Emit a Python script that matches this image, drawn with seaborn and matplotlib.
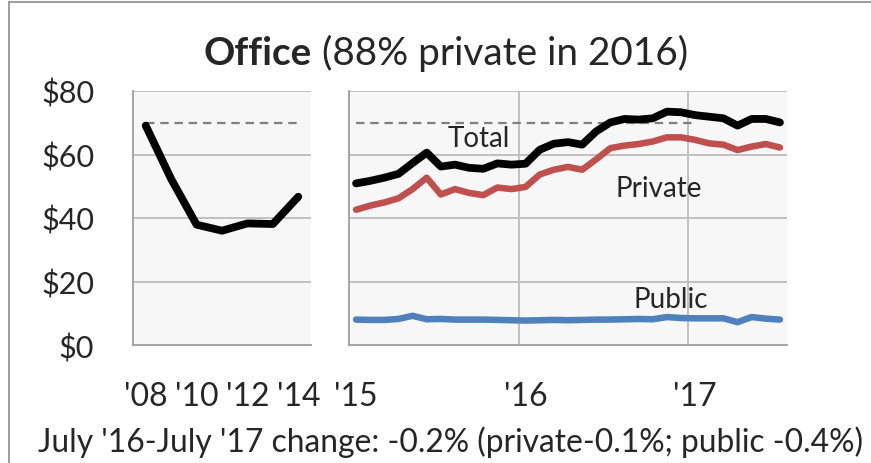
import numpy as np
import pandas as pd
import matplotlib
matplotlib.use("Agg")
import matplotlib.pyplot as plt
import seaborn as sns
from matplotlib.patches import Rectangle

# ---------------- data ----------------
annual_years = [2008, 2009, 2010, 2011, 2012, 2013, 2014]
annual_total = [69.1, 52.3, 37.9, 36.0, 38.3, 38.1, 46.7]
annual_label_years = [2008, 2010, 2012, 2014]
annual_labels = ["'08", "'10", "'12", "'14"]

month_index = list(range(31))  # Jan 2015 .. Jul 2017
monthly_total = [50.9, 51.7, 52.7, 53.9, 57.3, 60.6, 56.2, 56.8, 55.8, 55.5, 57.2, 56.8,
                 57.1, 61.5, 63.4, 63.9, 63.1, 67.3, 70.1, 71.2, 71.0, 71.4, 73.5, 73.3,
                 72.4, 71.9, 71.4, 69.1, 71.2, 71.2, 70.1]
monthly_private = [42.6, 43.9, 44.9, 46.2, 49.1, 52.7, 47.4, 49.1, 47.9, 47.2, 49.6, 49.1,
                   49.8, 53.7, 55.2, 56.1, 55.2, 58.5, 62.0, 62.8, 63.3, 64.1, 65.4, 65.4,
                   64.6, 63.5, 63.1, 61.4, 62.5, 63.3, 62.2]
monthly_public = [8.0, 7.9, 7.9, 8.2, 9.2, 8.1, 8.2, 8.0, 8.0, 8.0, 7.9, 7.8,
                  7.7, 7.8, 7.9, 7.8, 7.9, 8.0, 8.0, 8.1, 8.2, 8.1, 8.8, 8.5,
                  8.4, 8.4, 8.4, 7.2, 8.8, 8.3, 8.0]
year_label_months = [0, 12, 24]
year_labels = ["'15", "'16", "'17"]

reference_level = 70
reference_months = month_index[:25]

y_ticks = [0, 20, 40, 60, 80]
y_labels = ["$0", "$20", "$40", "$60", "$80"]

title_bold = "Office"
title_rest = "(88% private in 2016)"
footer = "July '16-July '17 change: -0.2% (private-0.1%; public -0.4%)"

colors = {"Total": "#000000", "Private": "#C0504D", "Public": "#4F81BD"}
widths = {"Total": 5.6, "Private": 4.7, "Public": 4.7}

# ---------------- style ----------------
sns.set_style("white")
plt.rcParams["font.family"] = ["Lato", "DejaVu Sans"]

W, H, DPI = 871, 464, 100
fig = plt.figure(figsize=(W / DPI, H / DPI), dpi=DPI)

def px_axes(x0, y0, x1, y1):
    return fig.add_axes([x0 / W, 1 - y1 / H, (x1 - x0) / W, (y1 - y0) / H])

axL = px_axes(133, 92, 311, 346)
axR = px_axes(349, 92, 787, 346)

BG = "#F7F7F7"
GRID = "#BDBDBD"
SPINE = "#A0A0A0"
DASH = "#808080"

annual_df = pd.DataFrame({"x": [y - annual_years[0] for y in annual_years],
                          "value": annual_total})
monthly_df = pd.DataFrame({
    "x": month_index * 3,
    "value": monthly_total + monthly_private + monthly_public,
    "series": ["Total"] * 31 + ["Private"] * 31 + ["Public"] * 31,
})

for ax in (axL, axR):
    ax.set_facecolor(BG)
    ax.set_ylim(0, 80)
    for s in ("top", "right"):
        ax.spines[s].set_visible(False)
    for s in ("left", "bottom"):
        ax.spines[s].set_color(SPINE)
        ax.spines[s].set_linewidth(1.3)
    ax.set_axisbelow(True)
    ax.yaxis.grid(True, color=GRID, lw=1.3)
    ax.set_yticks(y_ticks)

# ----- left panel -----
sns.lineplot(x=annual_df["x"], y=[reference_level] * len(annual_df), ax=axL,
             color=DASH, lw=1.6, linestyle=(0, (3.8, 2.6)))
sns.lineplot(data=annual_df, x="x", y="value", ax=axL, color="black", lw=widths["Total"],
             solid_capstyle="round", solid_joinstyle="round")
axL.set_xlim(-0.5, len(annual_years) - 0.5)
axL.set_xticks(np.arange(-0.5, len(annual_years), 1.0))
axL.set_xticklabels([])
axL.tick_params(axis="x", which="major", direction="in", length=10, color=SPINE, width=1.3)
axL.set_xticks([y - annual_years[0] for y in annual_label_years], annual_labels, minor=True)
axL.tick_params(axis="x", which="minor", length=0, pad=26, labelsize=23)
axL.set_yticklabels(y_labels)
axL.tick_params(axis="y", direction="out", length=10, color=SPINE, width=1.3, pad=18,
                labelsize=22)
axL.set_xlabel("")
axL.set_ylabel("")

# ----- right panel -----
sns.lineplot(x=reference_months, y=[reference_level] * len(reference_months), ax=axR,
             color=DASH, lw=1.6, linestyle=(0, (3.8, 2.6)))
sns.lineplot(data=monthly_df, x="x", y="value", hue="series", size="series",
             palette=colors, sizes=widths, ax=axR, legend=False,
             solid_capstyle="round", solid_joinstyle="round")
axR.set_xlim(-0.5, len(month_index) - 0.5)
axR.set_xticks([-0.5, 11.5, 23.5])
axR.set_xticklabels([])
axR.xaxis.grid(True, color=GRID, lw=1.3)
axR.tick_params(axis="x", which="major", direction="out", length=15, color=SPINE, width=1.3)
axR.set_xticks(np.arange(-0.5, len(month_index), 1.0), minor=True)
axR.tick_params(axis="x", which="minor", direction="in", length=5, color=SPINE, width=1.3)
axR.set_yticklabels([])
axR.tick_params(axis="y", length=0)
axR.set_xlabel("")
axR.set_ylabel("")
sec = axR.secondary_xaxis("bottom")
sec.set_xticks(year_label_months, year_labels)
sec.tick_params(length=0, pad=26, labelsize=23)
sec.spines["bottom"].set_visible(False)

axR.text(8.7, 65.3, "Total", ha="center", va="center", fontsize=20)
axR.text(21.4, 49.6, "Private", ha="center", va="center", fontsize=20)
axR.text(22.3, 14.6, "Public", ha="center", va="center", fontsize=20)

# ----- frame -----
fig.patches.append(Rectangle((9 / W, -0.1), 1.0, 1.1 - 3 / H, transform=fig.transFigure,
                             fill=False, edgecolor="#8C8C8C", lw=1.2))

# ----- title and footer, fitted to the reference widths -----
fig.canvas.draw()
r = fig.canvas.get_renderer()

ts = 26
t1 = fig.text(0, 0, title_bold, fontsize=ts, fontweight="bold", va="baseline")
t2 = fig.text(0, 0, title_rest, fontsize=ts, va="baseline")
w1 = t1.get_window_extent(r).width
w2 = t2.get_window_extent(r).width
gap = 0.26 * ts * DPI / 72
scale = 484 / (w1 + w2 + gap)
ts *= scale
t1.set_fontsize(ts)
t2.set_fontsize(ts)
w1 *= scale
w2 *= scale
gap *= scale
x0 = 445 - (w1 + gap + w2) / 2
t1.set_position((x0 / W, 1 - 65 / H))
t2.set_position(((x0 + w1 + gap) / W, 1 - 65 / H))

fs = 20
tf = fig.text(38 / W, 1 - 452 / H, footer, fontsize=fs, va="baseline", ha="left")
wf = tf.get_window_extent(r).width
tf.set_fontsize(fs * 826 / wf)

fig.savefig("out.png", dpi=DPI)
